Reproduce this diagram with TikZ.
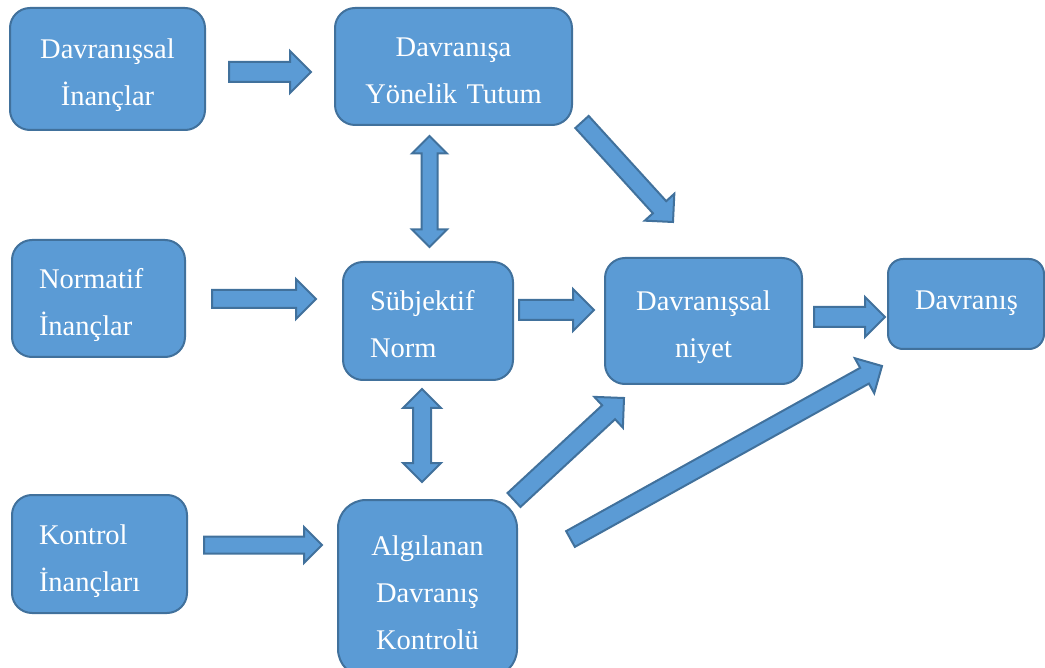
\documentclass[tikz,border=0pt]{standalone}
\usepackage{fontspec}
\setmainfont{Liberation Serif}
\usetikzlibrary{calc}

\definecolor{boxfill}{HTML}{5B9BD5}
\definecolor{boxline}{HTML}{41719C}

\newcommand{\blockarrow}[4]{%
  \coordinate (ta) at #1;
  \coordinate (tb) at #2;
  \coordinate (th) at ($(tb)!#4!(ta)$);
  \path[draw,arrowbody] ($(ta)!#3!90:(tb)$) -- ($(th)!#3!90:(tb)$) -- ($(th)!#4!90:(tb)$) -- (tb)
    -- ($(th)!#4!-90:(tb)$) -- ($(th)!#3!-90:(tb)$) -- ($(ta)!#3!-90:(tb)$) -- cycle;
}
\newcommand{\dblarrow}[4]{%
  \coordinate (ta) at #1;
  \coordinate (tb) at #2;
  \coordinate (ha) at ($(ta)!#4!(tb)$);
  \coordinate (hb) at ($(tb)!#4!(ta)$);
  \path[draw,arrowbody] (ta) -- ($(ha)!#4!90:(tb)$) -- ($(ha)!#3!90:(tb)$) -- ($(hb)!#3!90:(tb)$)
    -- ($(hb)!#4!90:(tb)$) -- (tb) -- ($(hb)!#4!-90:(tb)$) -- ($(hb)!#3!-90:(tb)$)
    -- ($(ha)!#3!-90:(tb)$) -- ($(ha)!#4!-90:(tb)$) -- cycle;
}

\begin{document}
\begin{tikzpicture}[x=1pt, y=-1pt,
  box/.style={draw=boxline, fill=boxfill, line width=2pt, rounded corners=20pt, text=white,
    font=\fontsize{28.5}{47}\selectfont, inner sep=0pt, align=center,
    execute at end node=\rule[-7pt]{0pt}{7pt}},
  lbox/.style={box, align=left},
  tall/.style={execute at begin node=\rule{0pt}{34pt}},
  arrowbody/.style={fill=boxfill, draw=boxline, line width=2pt}]
\useasboundingbox (0,0) rectangle (1045,668);
\node[box, tall, minimum width=195pt, minimum height=122pt, text width=141pt] (dinanc) at (107.5,69) {Davranışsal\\İnançlar};
\node[box, tall, minimum width=237pt, minimum height=117pt, text width=183pt] (tutum) at (453.5,66.5) {Davranışa\\Yönelik Tutum};
\node[lbox, tall, minimum width=173pt, minimum height=117pt, text width=119pt] (ninanc) at (98.5,298.5) {Normatif\\İnançlar};
\node[lbox, tall, minimum width=170pt, minimum height=118pt, text width=116pt] (subj) at (428,321) {Sübjektif\\Norm};
\node[box, tall, minimum width=197pt, minimum height=126pt, text width=143pt] (niyet) at (703.5,321) {Davranışsal\\niyet};
\node[box, rounded corners=15pt, minimum width=156pt, minimum height=90pt, text width=102pt] (davranis) at (966,304) {Davranış};
\node[lbox, tall, minimum width=175pt, minimum height=118pt, text width=121pt] (kinanc) at (99.5,554) {Kontrol\\İnançları};
\node[box, tall, rounded corners=28pt, minimum width=179pt, minimum height=177pt, text width=125pt] (algi) at (427.5,588.5) {Algılanan\\Davranış\\Kontrolü};
\blockarrow{($(dinanc.east)+(23,3)$)}{($(tutum.west)+(-23,5.5)$)}{10pt}{21pt}
\blockarrow{($(ninanc.east)+(26,0.5)$)}{($(subj.west)+(-26,-22)$)}{9pt}{20pt}
\blockarrow{($(subj.east)+(5,-11)$)}{($(niyet.west)+(-10,-11)$)}{10pt}{21pt}
\blockarrow{($(niyet.east)+(11,-4)$)}{($(davranis.west)+(-2,13)$)}{10pt}{20pt}
\blockarrow{($(kinanc.east)+(16,-9)$)}{($(algi.west)+(-15,-43.5)$)}{8.5pt}{18pt}
\blockarrow{($(tutum.south east)+(9,-4)$)}{($(niyet.north)+(-30.5,-35)$)}{9pt}{20pt}
\blockarrow{($(algi.north east)+(-4,1)$)}{($(niyet.south west)+(20,13)$)}{9.5pt}{21pt}
\blockarrow{($(algi.north east)+(52.5,40)$)}{($(davranis.south west)+(-5,16)$)}{9pt}{20pt}
\dblarrow{($(tutum.south)+(-24,10)$)}{($(subj.north)+(1.5,-14)$)}{8pt}{17.5pt}
\dblarrow{($(subj.south)+(-6,8)$)}{($(algi.north)+(-5.5,-17)$)}{9pt}{19pt}
\end{tikzpicture}
\end{document}
